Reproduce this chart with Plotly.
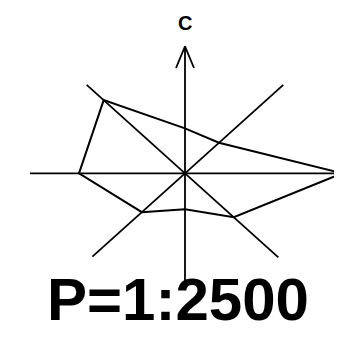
import plotly.graph_objects as go
import numpy as np

# eight directions of the star diagram, counter-clockwise from east
directions = ["E", "NE", "N", "NW", "W", "SW", "S", "SE"]
angles_deg = [0, 45, 90, 135, 180, 225, 270, 315]
values = [157, 48, 50, 115, 106, 61, 40, 69]
axis_len = [170, 139, 141, 139, 155, 131, 122, 132]

axis_label = "C"
title = "P=1:2500"

th = np.radians(angles_deg)
vx = np.array(values) * np.cos(th)
vy = np.array(values) * np.sin(th)

fig = go.Figure()

# spokes
for a, L in zip(th, axis_len):
    fig.add_trace(go.Scatter(x=[0, L * np.cos(a)], y=[0, L * np.sin(a)], mode="lines",
                             line=dict(color="black", width=1.8), hoverinfo="skip"))

# open arrow head on the vertical axis
tip = axis_len[directions.index("N")]
fig.add_trace(go.Scatter(x=[-9, 0, 9], y=[tip - 24, tip, tip - 24], mode="lines",
                         line=dict(color="black", width=1.8), hoverinfo="skip"))

# polygon
fig.add_trace(go.Scatter(x=list(vx) + [vx[0]], y=list(vy) + [vy[0]], mode="lines",
                         line=dict(color="black", width=2), hoverinfo="skip"))

fig.add_annotation(text=axis_label, x=0.53, y=0.956, xref="paper", yref="paper",
                   xanchor="center", yanchor="middle", showarrow=False,
                   font=dict(family="Liberation Sans", size=20, color="black", weight="bold"))
fig.add_annotation(text=title, x=0.5075, y=0.118, xref="paper", yref="paper",
                   xanchor="center", yanchor="middle", showarrow=False,
                   font=dict(family="Liberation Sans", size=60, color="black", weight="bold"))

# page body adds an 8px margin, so the figure is 8px smaller than the window
fig.update_layout(width=334, height=330, margin=dict(l=0, r=0, t=0, b=0),
                  showlegend=False, plot_bgcolor="white", paper_bgcolor="white",
                  xaxis=dict(range=[-177, 157], visible=False, fixedrange=True),
                  yaxis=dict(range=[-183, 183.7], visible=False, fixedrange=True))

fig.write_html("out.html")
